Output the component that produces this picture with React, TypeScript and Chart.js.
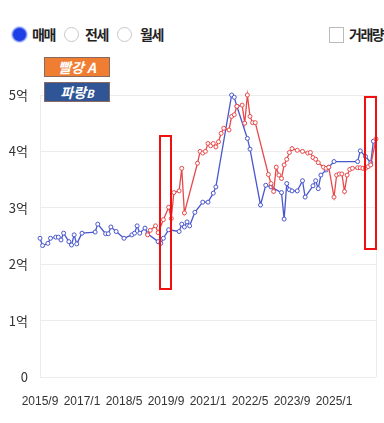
import React, { useEffect, useRef } from 'react';
import { Chart, registerables } from 'chart.js';
Chart.register(...registerables);

// months counted from 2015/9 (index 0)
const START_YEAR = 2015;
const START_MONTH = 9;
const X_MAX = 128;
const X_TICK_STEP = 16;

const redMonths = [41, 42, 44, 45, 47, 49, 50, 51, 53, 54, 55, 60, 61, 62, 63, 64, 65, 66, 67, 68, 69, 70, 72, 73, 74, 75, 77, 78, 79, 80, 81, 82, 87, 88, 89, 90, 91, 92, 93, 94, 95, 96, 98, 100, 102, 103, 104, 105, 106, 108, 109, 110, 112, 113, 114, 115, 116, 117, 118, 119, 121, 122, 123, 124, 125, 126, 128];
const redValues = [2.52, 2.6, 2.68, 2.56, 2.79, 3.01, 2.81, 3.27, 3.3, 3.7, 2.91, 3.79, 4.0, 3.97, 4.0, 4.14, 4.1, 4.14, 4.08, 4.17, 4.32, 4.41, 4.38, 4.62, 4.65, 4.8, 4.82, 4.5, 5.0, 4.62, 4.51, 4.51, 3.59, 3.43, 3.29, 3.72, 3.58, 3.52, 3.76, 3.86, 3.98, 4.05, 4.02, 4.0, 3.97, 3.98, 3.89, 3.86, 3.8, 3.72, 3.7, 3.72, 3.19, 3.58, 3.6, 3.6, 3.29, 3.58, 3.68, 3.7, 3.71, 3.71, 3.7, 3.7, 3.73, 3.76, 4.22];

const blueMonths = [0, 1, 3, 4, 6, 7, 8, 9, 11, 12, 13, 14, 16, 21, 22, 25, 26, 27, 29, 32, 35, 36, 37, 38, 40, 41, 45, 46, 47, 49, 53, 54, 55, 56, 57, 59, 62, 64, 66, 67, 73, 74, 75, 79, 80, 84, 86, 88, 92, 93, 94, 95, 96, 98, 100, 101, 104, 105, 106, 107, 109, 110, 112, 121, 122, 124, 126, 127];
const blueValues = [2.46, 2.33, 2.37, 2.46, 2.48, 2.48, 2.43, 2.55, 2.4, 2.34, 2.52, 2.36, 2.55, 2.57, 2.71, 2.54, 2.54, 2.66, 2.58, 2.46, 2.52, 2.55, 2.68, 2.55, 2.64, 2.54, 2.4, 2.37, 2.46, 2.61, 2.58, 2.71, 2.66, 2.75, 2.68, 2.92, 3.1, 3.1, 3.26, 3.37, 5.0, 4.96, 4.8, 4.23, 4.04, 3.05, 3.4, 3.37, 3.27, 2.8, 3.43, 3.32, 3.3, 3.3, 3.48, 3.19, 3.39, 3.48, 3.34, 3.58, 3.67, 3.72, 3.82, 3.82, 4.01, 3.91, 3.8, 4.18];

const Y_MIN = 0;
const Y_MAX = 5;

const RED = '#e64a4c';
const BLUE = '#4a57cc';

function monthLabel(i: number): string {
  const t = START_MONTH - 1 + i;
  return `${START_YEAR + Math.floor(t / 12)}/${(t % 12) + 1}`;
}

function toPoints(months: number[], values: number[]) {
  return months.map((m, k) => ({ x: m, y: values[k] }));
}

const FONT_KR = "'Noto Sans CJK KR', 'Noto Sans', sans-serif";

function Radio({ checked }: { checked: boolean }) {
  return (
    <span
      style={{
        display: 'block',
        width: 15,
        height: 15,
        borderRadius: '50%',
        boxSizing: 'border-box',
        border: checked ? '1.5px solid #7f95f0' : '1px solid #c8c8c8',
        background: checked ? '#1d3fe6' : '#fff',
        boxShadow: checked ? '0 0 0 1px #c9d3ff' : 'none',
      }}
    />
  );
}

export default function App() {
  const canvasRef = useRef<HTMLCanvasElement>(null);

  useEffect(() => {
    if (!canvasRef.current) return;
    const chart = new Chart(canvasRef.current, {
      type: 'line',
      data: {
        datasets: [
          {
            label: '빨강 A',
            data: toPoints(redMonths, redValues),
            borderColor: RED,
            backgroundColor: '#fff',
            pointBorderColor: RED,
            pointBackgroundColor: '#fff',
            borderWidth: 1.3,
            pointRadius: 2,
            pointBorderWidth: 1,
            tension: 0,
            clip: 6,
          },
          {
            label: '파랑B',
            data: toPoints(blueMonths, blueValues),
            borderColor: BLUE,
            backgroundColor: '#fff',
            pointBorderColor: BLUE,
            pointBackgroundColor: '#fff',
            borderWidth: 1.3,
            pointRadius: 2,
            pointBorderWidth: 1,
            tension: 0,
            clip: 6,
          },
        ],
      },
      options: {
        animation: false,
        responsive: false,
        maintainAspectRatio: false,
        layout: { padding: { top: 15, right: 8, left: 0, bottom: 0 } },
        plugins: { legend: { display: false }, tooltip: { enabled: false } },
        scales: {
          x: {
            type: 'linear',
            min: 0,
            max: X_MAX,
            border: { display: false },
            grid: {
              drawTicks: false,
              color: (ctx: any) =>
                ctx.tick && (ctx.tick.value === 0 || ctx.tick.value === X_MAX) ? '#ececec' : 'transparent',
            },
            ticks: {
              stepSize: X_TICK_STEP,
              autoSkip: false,
              maxRotation: 0,
              padding: 17,
              color: '#333',
              font: { family: "'Liberation Sans', Arial, sans-serif", size: 12 },
              callback: (v: any) => (Number(v) >= X_MAX ? '' : monthLabel(Number(v))),
            },
            afterFit: (scale: any) => {
              scale.height = 46;
              scale.paddingLeft = 0;
              scale.paddingRight = 0;
            },
          },
          y: {
            min: Y_MIN,
            max: Y_MAX,
            border: { display: false },
            grid: { drawTicks: false, color: '#ececec' },
            ticks: {
              stepSize: 1,
              padding: 12,
              color: '#333',
              font: { family: FONT_KR, size: 13 },
              callback: (v: any) => (Number(v) === 0 ? '0' : `${v}억`),
            },
            afterFit: (scale: any) => {
              scale.width = 40;
              scale.paddingTop = 0;
              scale.paddingBottom = 0;
            },
          },
        },
      },
    });
    return () => chart.destroy();
  }, []);

  const labelText: React.CSSProperties = {
    fontSize: 14,
    fontWeight: 700,
    color: '#222',
    letterSpacing: -1.5,
    position: 'absolute',
    top: 25,
    lineHeight: '18px',
  };

  const tag = (bg: string, top: number): React.CSSProperties => ({
    position: 'absolute',
    left: 44,
    top,
    width: 66,
    height: 20,
    boxSizing: 'border-box',
    background: bg,
    border: '1px solid #8a6a60',
    color: '#fff',
    fontStyle: 'italic',
    fontWeight: 700,
    fontSize: 14,
    lineHeight: '18px',
    textAlign: 'center',
  });

  const box = (left: number, top: number, w: number, h: number): React.CSSProperties => ({
    position: 'absolute',
    left,
    top,
    width: w,
    height: h,
    boxSizing: 'border-box',
    border: '2.5px solid #f01010',
    pointerEvents: 'none',
  });

  return (
    <div
      style={{
        position: 'absolute',
        left: 0,
        top: 0,
        width: 384,
        height: 423,
        background: '#fff',
        overflow: 'hidden',
        fontFamily: FONT_KR,
      }}
    >
      <canvas ref={canvasRef} width={384} height={343} style={{ position: 'absolute', left: 0, top: 80, width: 384, height: 343 }} />

      <div style={{ position: 'absolute', left: 12, top: 27 }}><Radio checked /></div>
      <span style={{ ...labelText, left: 32 }}>매매</span>
      <div style={{ position: 'absolute', left: 64, top: 27 }}><Radio checked={false} /></div>
      <span style={{ ...labelText, left: 85 }}>전세</span>
      <div style={{ position: 'absolute', left: 117, top: 27 }}><Radio checked={false} /></div>
      <span style={{ ...labelText, left: 140 }}>월세</span>

      <div style={{ position: 'absolute', left: 329, top: 27, width: 15, height: 16, boxSizing: 'border-box', border: '1px solid #bbb', background: '#fff' }} />
      <span style={{ ...labelText, left: 349 }}>거래량</span>

      <div style={tag('#ef7d32', 57)}>빨강 A</div>
      <div style={tag('#2f5597', 82)}>
        파랑<span style={{ fontSize: 11 }}>B</span>
      </div>

      <div style={box(159, 135, 13, 155)} />
      <div style={box(364, 96, 13, 154)} />
    </div>
  );
}
